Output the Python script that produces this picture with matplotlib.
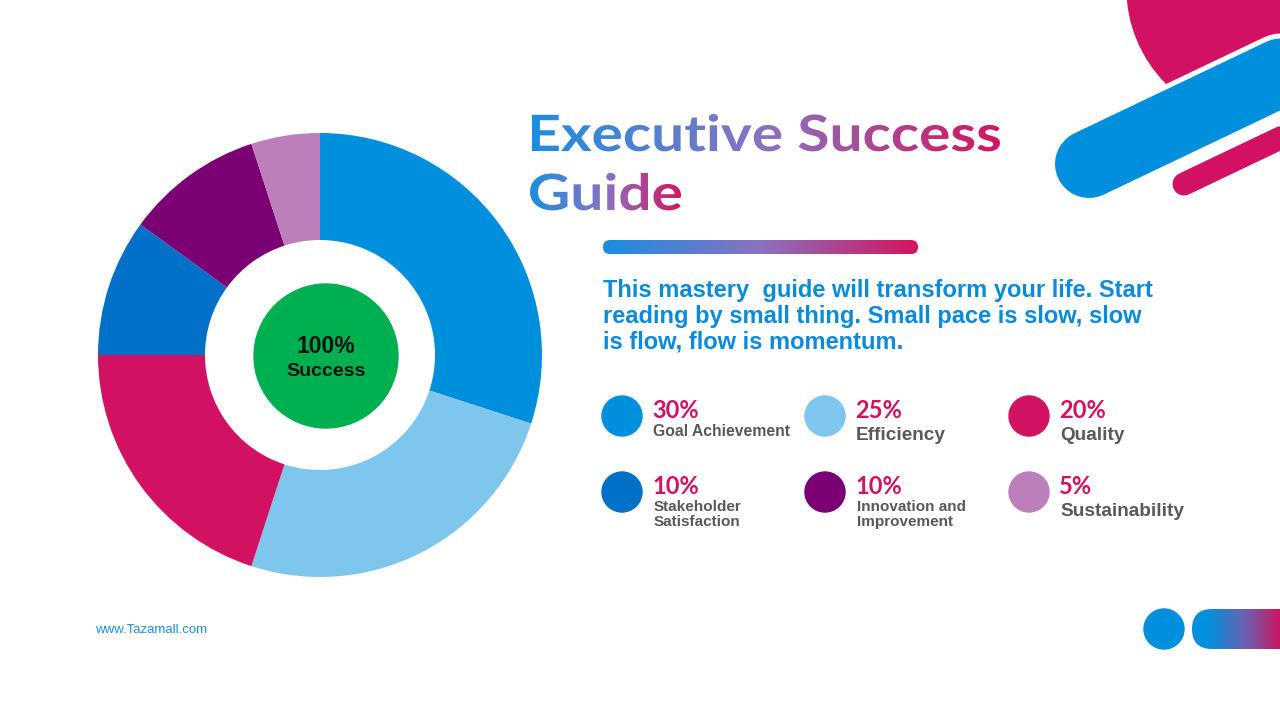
import numpy as np
import matplotlib
matplotlib.use("Agg")
import matplotlib.pyplot as plt
from matplotlib.colors import LinearSegmentedColormap
from matplotlib.patches import Circle, FancyBboxPatch, PathPatch, Polygon
from matplotlib.textpath import TextPath
from matplotlib.font_manager import FontProperties
from matplotlib.transforms import Affine2D

####
# Data
#===
shares = [30, 25, 20, 10, 10, 5]
pct_labels = ["30%", "25%", "20%", "10%", "10%", "5%"]
names = ["Goal Achievement", "Efficiency", "Quality",
         "Stakeholder\nSatisfaction", "Innovation and\nImprovement", "Sustainability"]
colors = ["#008FDC", "#7FC6ED", "#D31163", "#0070C8", "#7A0073", "#BC7FBB"]

title_lines = ["Executive Success", "Guide"]
blurb = ["This mastery  guide will transform your life. Start",
         "reading by small thing. Small pace is slow, slow",
         "is flow, flow is momentum."]
center_big = "100%"
center_small = "Success"
website = "www.Tazamall.com"

####
# Style
#===
W, H = 1280, 720
BLUE = "#008FDC"
MAG = "#D31163"
GREEN = "#00B050"
GREY = "#595959"
grad = LinearSegmentedColormap.from_list("g", ["#1B8EE0", "#8A72C0", "#D4145F"])
grad2 = LinearSegmentedColormap.from_list("g2", ["#0290DD", "#6A62B0", "#D0135F"])

fig = plt.figure(figsize=(12.8, 7.2), dpi=100)
ax = fig.add_axes([0, 0, 1, 1])


def py(y):
    # pixel row (from top) -> data y
    return H - y


def grad_fill(patch, x0, x1, y0, y1, cmap, z, vals=None):
    ax.add_patch(patch)
    if vals is None:
        vals = np.linspace(0, 1, 256)
    im = ax.imshow(vals.reshape(1, -1), cmap=cmap, vmin=0, vmax=1,
                   extent=[x0, x1, y0, y1], aspect="auto", zorder=z,
                   interpolation="bilinear")
    im.set_clip_path(patch)


def grad_text(s, x, base, size, width=None, sx=None):
    fp = FontProperties(family="Lato", weight="bold")
    tp = TextPath((0, 0), s, size=size, prop=fp)
    bb = tp.get_extents()
    if sx is None:
        sx = width / bb.width
    path = Affine2D().translate(-bb.x0, 0).scale(sx, 1).translate(x, py(base)).transform_path(tp)
    patch = PathPatch(path, fc="none", ec="none")
    e = path.get_extents()
    grad_fill(patch, e.x0, e.x1, e.y0 - 2, e.y1 + 2, grad, 5)
    return sx


####
# Donut
#===
ax.pie(shares, colors=colors, startangle=90, counterclock=False,
       center=(320, py(355)), radius=222,
       wedgeprops=dict(width=107, edgecolor="none"))
ax.add_patch(Circle((326, py(356)), 72, color=GREEN, zorder=3))
ax.text(326, py(353), center_big, ha="center", va="baseline", fontsize=16.5,
        fontweight="bold", color="#111111", family="Liberation Sans", zorder=4)
ax.text(326, py(376), center_small, ha="center", va="baseline", fontsize=14,
        fontweight="bold", color="#111111", family="Liberation Sans", zorder=4)

####
# Title + bar + text
#===
sx = grad_text(title_lines[0], 532, 151, 50, width=468)
grad_text(title_lines[1], 530, 210, 50, sx=sx)

bar = FancyBboxPatch((603, py(254)), 315, 14, boxstyle="round,pad=0,rounding_size=7",
                     fc="none", ec="none")
grad_fill(bar, 603, 918, py(254), py(240), grad, 5)

for i, line in enumerate(blurb):
    ax.text(603, py(297 + 26 * i), line, fontsize=17, fontweight="bold",
            color="#0A8ADB", family="Liberation Sans", va="baseline")

####
# Legend
#===
col_x = [622, 825, 1029]
row_y = [416, 492]
for i in range(6):
    cx = col_x[i % 3]
    cy = row_y[i // 3]
    ax.add_patch(Circle((cx, py(cy)), 20, color=colors[i], zorder=3))
    ax.text(cx + 30, py(cy + 2.5), pct_labels[i], fontsize=17, fontweight="bold",
            color=MAG, family="Lato", va="baseline")
    if "\n" in names[i]:
        a, b = names[i].split("\n")
        ax.text(cx + 32, py(cy + 19), a, fontsize=11, fontweight="bold",
                color=GREY, family="Liberation Sans", va="baseline")
        ax.text(cx + 32, py(cy + 34), b, fontsize=11, fontweight="bold",
                color=GREY, family="Liberation Sans", va="baseline")
    elif i == 0:
        ax.text(cx + 31, py(cy + 20), names[i], fontsize=11.3, fontweight="bold",
                color=GREY, family="Liberation Sans", va="baseline")
    else:
        ax.text(cx + 31, py(cy + 24), names[i], fontsize=13.7, fontweight="bold",
                color=GREY, family="Liberation Sans", va="baseline")

ax.text(95, py(633), website, fontsize=9.5, color="#1E90DC",
        family="Liberation Sans", va="baseline")

####
# Decorations
#===
slope = 0.477
blob = Circle((1262, py(-12)), 135, color=MAG, zorder=1)
ax.add_patch(blob)
clip = Polygon([(1000, py(164 + 89 * slope)), (1320, py(164 - 231 * slope)),
                (1320, py(-60)), (1000, py(-60))], closed=True, fc="none", ec="none")
ax.add_patch(clip)
blob.set_clip_path(clip)
ax.plot([1089, 1420], [py(164), py(164 - 331 * slope)], lw=78 * 0.72,
        color="white", solid_capstyle="round", zorder=2)
ax.plot([1089, 1420], [py(164), py(164 - 331 * slope)], lw=68 * 0.72,
        color=BLUE, solid_capstyle="round", zorder=3)
ax.plot([1184, 1420], [py(184), py(184 - 236 * slope)], lw=23 * 0.72,
        color=MAG, solid_capstyle="round", zorder=3)

ax.add_patch(Circle((1164, py(629)), 20, color=BLUE, zorder=3))
cap = FancyBboxPatch((1192, py(649)), 130, 40, boxstyle="round,pad=0,rounding_size=20",
                     fc="none", ec="none")
xs = np.linspace(1192, 1322, 256)
grad_fill(cap, 1192, 1322, py(649), py(609), grad2, 3,
          vals=np.clip((xs - 1208) / 74, 0, 1))

ax.set_xlim(0, W)
ax.set_ylim(0, H)
ax.set_aspect("auto")
ax.axis("off")
fig.savefig("out.png", dpi=100, facecolor="white")
